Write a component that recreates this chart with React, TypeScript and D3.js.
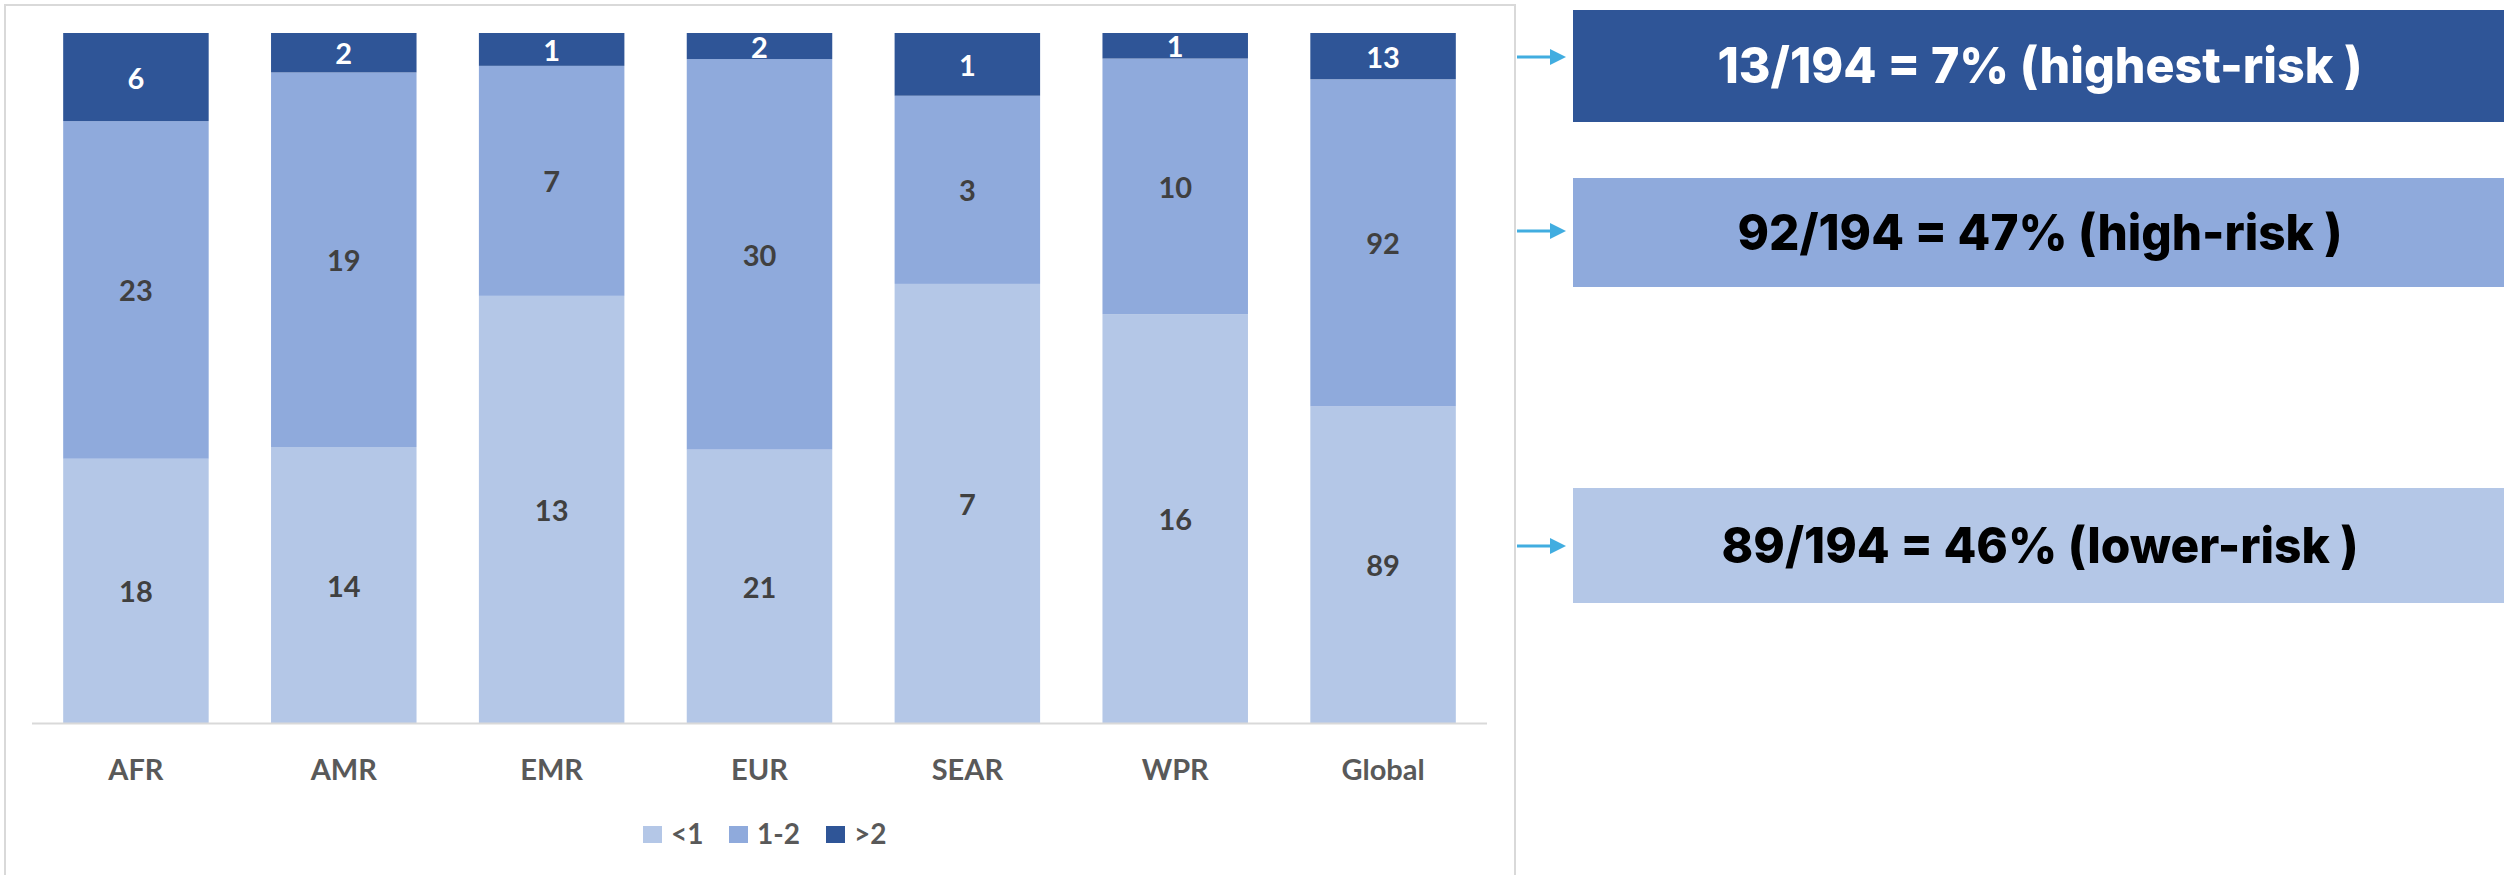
import React from "react";
import * as d3 from "d3";

const categories = ["AFR", "AMR", "EMR", "EUR", "SEAR", "WPR", "Global"];
const seriesNames = ["<1", "1-2", ">2"];
const lowRisk = [18, 14, 13, 21, 7, 16, 89];
const highRisk = [23, 19, 7, 30, 3, 10, 92];
const highestRisk = [6, 2, 1, 2, 1, 1, 13];
const seriesColors = ["#B4C7E7", "#8FAADC", "#2F5597"];
const labelColors = ["#404040", "#404040", "#FFFFFF"];

const calloutTexts = [
  "13/194 = 7% (highest-risk )",
  "92/194 = 47% (high-risk )",
  "89/194 = 46% (lower-risk )",
];
const calloutFills = ["#2F5597", "#8FAADC", "#B4C7E7"];
const calloutTextColors = ["#FFFFFF", "#000000", "#000000"];

const W = 2504;
const H = 875;

export default function App() {
  const rows = categories.map((c, i) => ({
    cat: c,
    s0: lowRisk[i],
    s1: highRisk[i],
    s2: highestRisk[i],
  }));
  const keys = ["s0", "s1", "s2"];
  const stack = d3.stack<any>().keys(keys).offset(d3.stackOffsetExpand);
  const stacked = stack(rows);

  const x = d3
    .scaleBand<string>()
    .domain(categories)
    .range([32, 1487])
    .paddingInner(0.3)
    .paddingOuter(0.15);
  const y = d3.scaleLinear().domain([0, 1]).range([723, 33]);

  const callouts = [
    { top: 10, bottom: 122, arrowY: 57, width: 645 },
    { top: 178, bottom: 287, arrowY: 231, width: 605 },
    { top: 488, bottom: 603, arrowY: 546, width: 637 },
  ];

  const labelFont = "Lato, 'Open Sans', sans-serif";
  const boxX = 1573;

  const legendSq = [643, 729, 826];
  const legendTx = [671, 757, 854];

  return (
    <svg
      width={W}
      height={H}
      style={{ position: "absolute", left: 0, top: 0, background: "#fff" }}
    >
      <rect x={0} y={0} width={W} height={H} fill="#fff" />
      <rect
        x={5}
        y={5}
        width={1510}
        height={872}
        fill="#fff"
        stroke="#D9D9D9"
        strokeWidth={2}
      />
      {stacked.map((layer, li) => (
        <g key={li}>
          {layer.map((d, i) => {
            const x0 = x(categories[i])!;
            const y0 = y(d[1]);
            const y1 = y(d[0]);
            const val = (d.data as any)[keys[li]];
            return (
              <g key={i}>
                <rect
                  x={x0}
                  y={y0}
                  width={x.bandwidth()}
                  height={y1 - y0}
                  fill={seriesColors[li]}
                />
                <text
                  x={x0 + x.bandwidth() / 2}
                  y={(y0 + y1) / 2}
                  textAnchor="middle"
                  dominantBaseline="central"
                  fontFamily={labelFont}
                  fontWeight={700}
                  fontSize={29}
                  fill={labelColors[li]}
                >
                  {val}
                </text>
              </g>
            );
          })}
        </g>
      ))}
      <line x1={32} x2={1487} y1={723.5} y2={723.5} stroke="#D9D9D9" strokeWidth={2} />
      {categories.map((c) => (
        <text
          key={c}
          x={x(c)! + x.bandwidth() / 2}
          y={780}
          textAnchor="middle"
          fontFamily={labelFont}
          fontWeight={700}
          fontSize={29}
          fill="#595959"
        >
          {c}
        </text>
      ))}
      {seriesNames.map((s, i) => (
        <g key={s}>
          <rect x={legendSq[i]} y={826} width={19} height={17} fill={seriesColors[i]} />
          <text
            x={legendTx[i]}
            y={844}
            fontFamily={labelFont}
            fontWeight={700}
            fontSize={28}
            fill="#595959"
          >
            {s}
          </text>
        </g>
      ))}
      {callouts.map((c, i) => {
        const cy = (c.top + c.bottom) / 2;
        return (
          <g key={i}>
            <line
              x1={1517}
              x2={1551}
              y1={c.arrowY}
              y2={c.arrowY}
              stroke="#41ADE0"
              strokeWidth={3}
            />
            <path
              d={`M1550,${c.arrowY - 8} L1566,${c.arrowY} L1550,${c.arrowY + 8} Z`}
              fill="#41ADE0"
            />
            <rect
              x={boxX}
              y={c.top}
              width={W - boxX}
              height={c.bottom - c.top}
              fill={calloutFills[i]}
            />
            <text
              x={2040}
              y={cy + 17}
              textAnchor="middle"
              fontFamily="Inter, 'Open Sans', sans-serif"
              fontWeight={800}
              fontSize={50}
              fill={calloutTextColors[i]}
              textLength={c.width}
              lengthAdjust="spacingAndGlyphs"
            >
              {calloutTexts[i]}
            </text>
          </g>
        );
      })}
    </svg>
  );
}
